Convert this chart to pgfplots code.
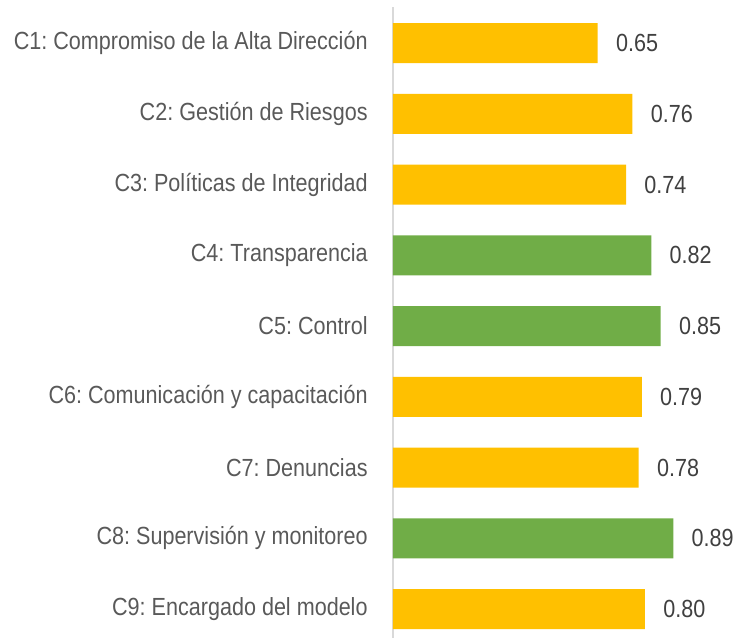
\documentclass[border=0pt]{standalone}
\usepackage{pgfplots}
\pgfplotsset{compat=1.18}
\usepackage{fontspec}
\setmainfont[FakeStretch=0.87]{Liberation Sans}
\frenchspacing
\definecolor{cy}{HTML}{FFC000}
\definecolor{cg}{HTML}{70AD47}
\definecolor{lab}{HTML}{595959}
\definecolor{val}{HTML}{404040}
\definecolor{axl}{HTML}{D9D9D9}
\pgfplotstableread{
y v
0 0.65
1 0.76
2 0.74
5 0.79
6 0.78
8 0.80
}\yellowdata
\pgfplotstableread{
y v
3 0.82
4 0.85
7 0.89
}\greendata
\begin{document}
\begin{tikzpicture}
\useasboundingbox (0,0) rectangle (372.5pt,319pt);
\begin{axis}[
  at={(196.5pt,0pt)}, anchor=south west,
  scale only axis, width=176pt, height=315.5pt,
  xbar, bar width=20pt, bar shift=0pt,
  xmin=0, xmax=1.1175,
  ymin=-0.51, ymax=8.41, y dir=reverse,
  axis x line=none,
  axis y line*=left,
  y axis line style={draw=axl, line width=0.8pt},
  ytick={0,...,8},
  yticklabels={C1: Compromiso de la Alta Dirección, C2: Gestión de Riesgos, C3: Políticas de Integridad, C4: Transparencia, C5: Control, C6: Comunicación y capacitación, C7: Denuncias, C8: Supervisión y monitoreo, C9: Encargado del modelo},
  major tick length=0pt,
  yticklabel style={font=\fontsize{12.4}{14}\selectfont\frenchspacing, text=lab, inner sep=0pt, xshift=-12.5pt},
  nodes near coords={\pgfmathprintnumber[fixed,fixed zerofill,precision=2,assume math mode=true]{\pgfplotspointmeta}},
  point meta=explicit,
  every node near coord/.append style={font=\fontsize{12.4}{14}\selectfont, text=val, anchor=west, inner sep=0pt, xshift=9pt},
  clip=false,
]
\addplot[fill=cy, draw=none] table[x=v, y=y, meta=v] {\yellowdata};
\addplot[fill=cg, draw=none] table[x=v, y=y, meta=v] {\greendata};
\end{axis}
\end{tikzpicture}
\end{document}
